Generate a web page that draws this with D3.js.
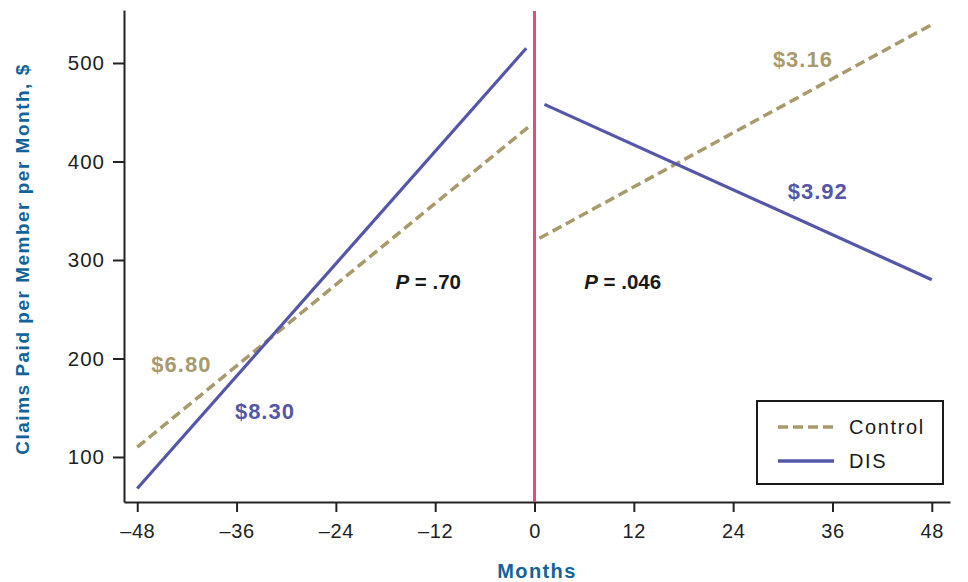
<!DOCTYPE html>
<html>
<head>
<meta charset="utf-8">
<script src="https://cdn.jsdelivr.net/npm/d3@7"></script>
<style>
  body { margin: 0; background: #fff; }
  svg { display: block; }
  text { font-family: 'Liberation Sans', Arial, Helvetica, sans-serif; }
</style>
</head>
<body>
<svg id="chart" width="968" height="582"></svg>
<script>
// months and claims ($)
const xTicks = [-48, -36, -24, -12, 0, 12, 24, 36, 48];
const yTicks = [100, 200, 300, 400, 500];

const controlPre = [[-48, 110], [-0.6, 436]];
const controlPost = [[0.6, 322], [48, 539]];
const disPre = [[-48, 68], [-1, 515]];
const disPost = [[1.2, 458], [48, 280]];

const slopeLabels = [
  { text: "$6.80", x: -46.3, y: 194, series: "control" },
  { text: "$8.30", x: -36.2, y: 146, series: "dis" },
  { text: "$3.16", x: 28.8, y: 504, series: "control" },
  { text: "$3.92", x: 30.6, y: 370, series: "dis" }
];
const pLabels = [
  { value: "= .70", x: -16.8, y: 279 },
  { value: "= .046", x: 6, y: 279 }
];

const colors = { control: "#a89a6b", dis: "#5457a8", cut: "#d9507a", axisTitle: "#12639b" };

var svg = d3.select("#chart");

var x = d3.scaleLinear().domain([-49.6, 50.2]).range([124, 950]);
var y = d3.scaleLinear().domain([54.3, 553.8]).range([502, 10]);

// axes
var xAxis = svg.append("g")
  .attr("transform", "translate(0,502)")
  .call(d3.axisBottom(x).tickValues(xTicks).tickSize(10).tickSizeOuter(0).tickPadding(12)
    .tickFormat(d => d < 0 ? "\u2013" + Math.abs(d) : d));
xAxis.selectAll("text")
  .style("font-family", "'Liberation Sans', Arial, sans-serif")
  .style("font-size", "20px")
  .style("letter-spacing", "0.6px")
  .attr("fill", "#222");

var yAxis = svg.append("g")
  .attr("transform", "translate(124,0)")
  .call(d3.axisLeft(y).tickValues(yTicks).tickSize(11).tickSizeOuter(0).tickPadding(8));
yAxis.selectAll("text")
  .style("font-family", "'Liberation Sans', Arial, sans-serif")
  .style("font-size", "20.5px")
  .style("letter-spacing", "1px")
  .attr("fill", "#222");

svg.selectAll(".domain, .tick line").attr("stroke", "#222").attr("stroke-width", 2);

// cut line at month 0
svg.append("line")
  .attr("x1", x(0)).attr("x2", x(0))
  .attr("y1", 11).attr("y2", 502)
  .attr("stroke", colors.cut).attr("stroke-width", 3);

var line = d3.line().x(d => x(d[0])).y(d => y(d[1]));

[controlPre, controlPost].forEach(seg => {
  svg.append("path").attr("d", line(seg))
    .attr("fill", "none").attr("stroke", colors.control)
    .attr("stroke-width", 3.5).attr("stroke-dasharray", "10,5");
});
[disPre, disPost].forEach(seg => {
  svg.append("path").attr("d", line(seg))
    .attr("fill", "none").attr("stroke", colors.dis)
    .attr("stroke-width", 3.2);
});

// slope labels
svg.selectAll(".slope")
  .data(slopeLabels)
  .enter()
  .append("text")
  .attr("x", d => x(d.x))
  .attr("y", d => y(d.y))
  .attr("dominant-baseline", "central")
  .attr("fill", d => colors[d.series])
  .style("font-weight", "bold")
  .style("font-size", "22px")
  .style("letter-spacing", "1px")
  .text(d => d.text);

// P values
var pt = svg.selectAll(".pval")
  .data(pLabels)
  .enter()
  .append("text")
  .attr("x", d => x(d.x))
  .attr("y", d => y(d.y))
  .attr("dominant-baseline", "central")
  .attr("fill", "#1a1a1a")
  .style("font-weight", "bold")
  .style("font-size", "20.5px");
pt.append("tspan").style("font-style", "italic").text("P");
pt.append("tspan").text(d => " " + d.value);

// legend
var lg = svg.append("g");
lg.append("rect")
  .attr("x", 757).attr("y", 401).attr("width", 186).attr("height", 83)
  .attr("fill", "#fff").attr("stroke", "#1a1a1a").attr("stroke-width", 2);
var legendItems = [
  { name: "Control", series: "control", dash: "10,5", yy: 427 },
  { name: "DIS", series: "dis", dash: null, yy: 461 }
];
legendItems.forEach(it => {
  lg.append("line")
    .attr("x1", 778).attr("x2", 834).attr("y1", it.yy).attr("y2", it.yy)
    .attr("stroke", colors[it.series]).attr("stroke-width", 3.5)
    .attr("stroke-dasharray", it.dash);
  lg.append("text")
    .attr("x", 849).attr("y", it.yy)
    .attr("dominant-baseline", "central")
    .attr("fill", "#1a1a1a")
    .style("font-size", "20px")
    .style("letter-spacing", "1.6px")
    .text(it.name);
});

// axis titles
svg.append("text")
  .attr("x", 537).attr("y", 571)
  .attr("text-anchor", "middle").attr("dominant-baseline", "central")
  .attr("fill", colors.axisTitle)
  .style("font-weight", "bold").style("font-size", "20px")
  .style("letter-spacing", "1.4px")
  .text("Months");

svg.append("text")
  .attr("transform", "translate(22,259) rotate(-90)")
  .attr("text-anchor", "middle").attr("dominant-baseline", "central")
  .attr("fill", colors.axisTitle)
  .style("font-weight", "bold").style("font-size", "19px")
  .style("letter-spacing", "1.5px")
  .text("Claims Paid per Member per Month, $");
</script>
</body>
</html>
